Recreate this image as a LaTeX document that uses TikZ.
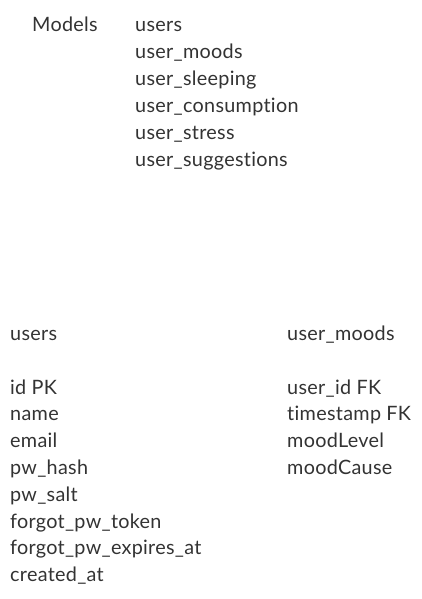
\documentclass[tikz,border=0pt]{standalone}
\usepackage{fontspec}
\setmainfont[Ligatures=NoCommon,LetterSpace=1.5]{Lato}
\definecolor{ink}{HTML}{333333}
\begin{document}
\begin{tikzpicture}[x=1pt,y=-1pt,
  lbl/.style={anchor=base west,inner sep=0pt,text=ink,font=\fontsize{19.8}{22}\selectfont}]
\useasboundingbox (0,0) rectangle (422,599);
% model list
\node[lbl] (models) at (32,31.5) {Models};
\foreach \t [count=\i from 0] in {users,user\_moods,user\_sleeping,user\_consumption,user\_stress,user\_suggestions}
  \node[lbl] (m\i) at (135,{32+26.8*\i}) {\t};
% users table
\node[lbl] (usersT) at (10,340.5) {users};
\foreach \t [count=\i from 0] in {id PK,name,email,pw\_hash,pw\_salt,forgot\_pw\_token,forgot\_pw\_expires\_at,created\_at}
  \node[lbl] (u\i) at (10,{394+26.8*\i}) {\t};
% user_moods table
\node[lbl] (moodsT) at (287,340.5) {user\_moods};
\foreach \t [count=\i from 0] in {user\_id FK,timestamp FK,moodLevel,moodCause}
  \node[lbl] (d\i) at (287,{394+26.8*\i}) {\t};
\end{tikzpicture}
\end{document}
